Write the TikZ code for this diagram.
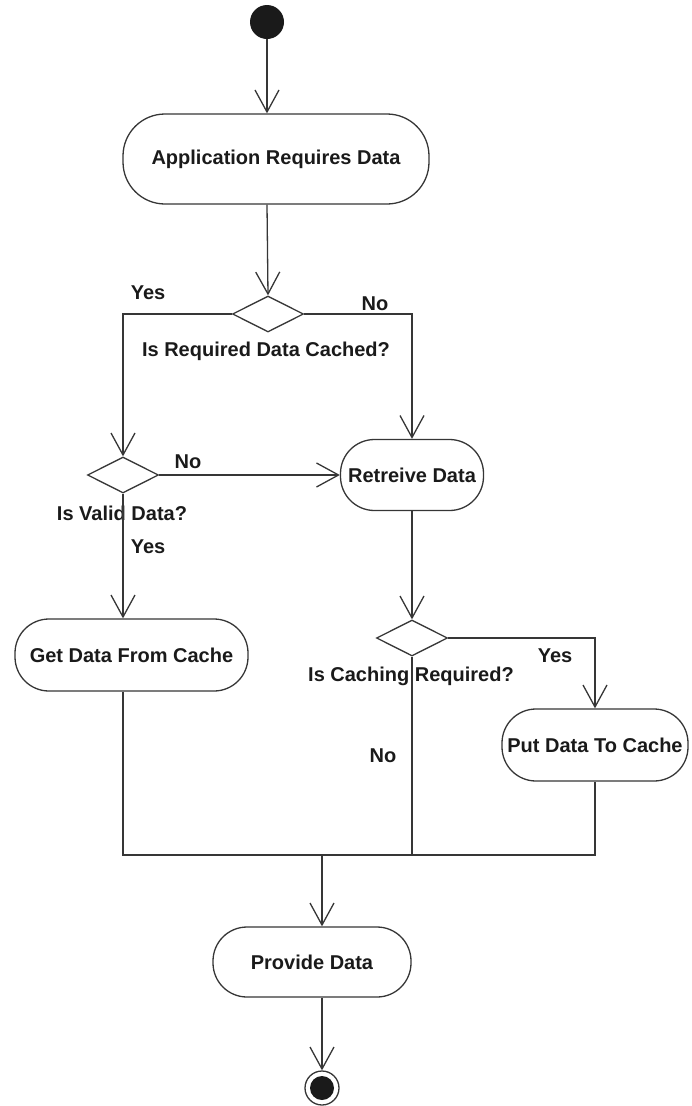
\documentclass[tikz,border=0pt]{standalone}
\usepackage{fontspec}
\setmainfont{Liberation Sans}
\usetikzlibrary{arrows.meta,calc}

\definecolor{inkline}{HTML}{363636}
\definecolor{inktext}{HTML}{1A1A1A}

\tikzset{
  flow/.style={draw=inkline, line width=1.3pt, -{Straight Barb[length=22pt,width=24pt,line width=1.3pt]}},
  plain/.style={draw=inkline, line width=1.3pt},
  activity/.style={draw=inkline, line width=1.3pt, rounded corners=34pt, inner sep=0pt,
    font=\fontsize{20}{22}\selectfont\bfseries, text=inktext},
  choice/.style={draw=inkline, line width=1.3pt, shape=diamond, minimum width=71pt, minimum height=36pt, inner sep=0pt},
  lbl/.style={font=\fontsize{20}{22}\selectfont\bfseries, text=inktext, inner sep=0pt},
  startstate/.style={circle, fill=inktext, minimum size=34pt, inner sep=0pt},
  endstate/.style={circle, draw=inkline, line width=1.3pt, minimum size=34pt, inner sep=0pt,
    path picture={\fill[inktext] (path picture bounding box.center) circle (12pt);}}
}
\usetikzlibrary{shapes.geometric}

\begin{document}
\begin{tikzpicture}[x=1pt, y=-1pt]

  % Bounding box of the scheme
  \useasboundingbox (0,0) rectangle (692,1106);

  %%%%%%%%%%%%%%%%%%%%%%%%%%%%%%%% Etats et activites %%%%%%%%%%%%%%%%%%%%%%%%%%%%%%%%
  \node[startstate] (start) at (267,22) {};
  \node[activity, rounded corners=42pt, minimum width=306pt, minimum height=90pt] (app) at (276,159) {Application Requires Data};
  \node[choice] (d1) at (268,314) {};
  \node[choice] (d2) at (123,475) {};
  \node[activity, minimum width=143pt, minimum height=71pt] (retr) at (412,475) {Retreive Data};
  \node[activity, minimum width=233pt, minimum height=72pt] (cache) at (131.5,655) {Get Data From Cache};
  \node[choice] (d3) at (412,638) {};
  \node[activity, minimum width=186pt, minimum height=72pt] (put) at (595,745) {Put Data To Cache};
  \node[activity, minimum width=198pt, minimum height=70pt] (prov) at (312,962) {Provide Data};
  \node[endstate] (end) at (322,1088) {};

  % Point de jonction
  \coordinate (jn) at (322,855);

  %%%%%%%%%%%%%%%%%%%%%%%%%%%%%%%% Etiquettes %%%%%%%%%%%%%%%%%%%%%%%%%%%%%%%%
  \node[lbl] (yes1) at (148,293) {Yes};
  \node[lbl] (no1) at (375,304) {No};
  \node[lbl] (q1) at (266,351) {Is Required Data Cached?};
  \node[lbl] (no2) at (188,462) {No};
  \node[lbl] (q2) at (122,513) {Is Valid Data?};
  \node[lbl] (yes2) at (148,547) {Yes};
  \node[lbl] (q3) at (411,676) {Is Caching Required?};
  \node[lbl] (yes3) at (555,656) {Yes};
  \node[lbl] (no3) at (383,756) {No};

  %%%%%%%%%%%%%%%%%%%%%%%%%%%%%%%% Transitions %%%%%%%%%%%%%%%%%%%%%%%%%%%%%%%%
  \draw[flow] (start) -- (start |- app.north);
  \draw[flow] (start |- app.south) -- (d1.north);
  \draw[flow] (d1.west) -| (d2.north);
  \draw[flow] (d1.east) -| (retr.north);
  \draw[flow] (d2.east) -- (retr.west);
  \draw[flow] (d2.south) -- (d2 |- cache.north);
  \draw[flow] (retr.south) -- (d3.north);
  \draw[flow] (d3.east) -| (put.north);

  % Barre de fusion
  \draw[plain] (d2 |- cache.south) -- (d2 |- jn) -- (put.south |- jn) -- (put.south);
  \draw[plain] (d3.south) -- (d3 |- jn);
  \draw[flow] (jn) -- (jn |- prov.north);
  \draw[flow] (jn |- prov.south) -- (end.north);

\end{tikzpicture}
\end{document}
